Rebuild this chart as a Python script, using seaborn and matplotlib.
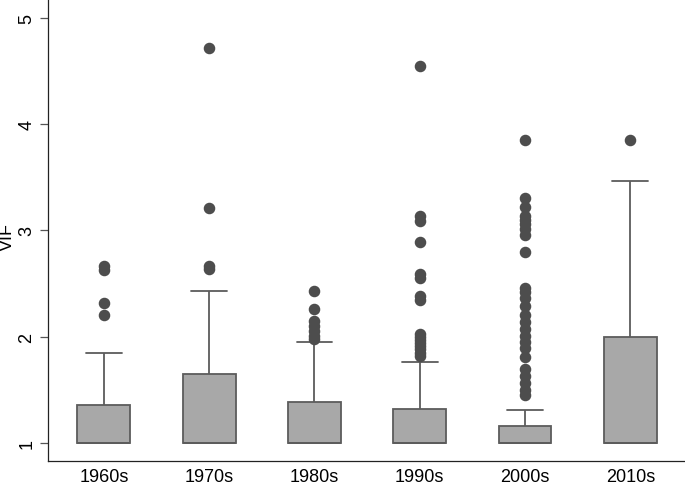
import matplotlib
matplotlib.use("Agg")
from matplotlib import pyplot as plt
import seaborn as sns
import pandas as pd
import numpy as np

# values: box top (Q3), upper whisker end, outliers
# (lower quartile and median all sit at 1)
decades = ["1960s", "1970s", "1980s", "1990s", "2000s", "2010s"]
q3 = [1.36, 1.65, 1.39, 1.32, 1.16, 2.00]
whisker_top = [1.85, 2.43, 1.95, 1.765, 1.31, 3.47]
outliers_60s = [2.67, 2.63, 2.32, 2.20]
outliers_70s = [4.72, 3.21, 2.67, 2.64]
outliers_80s = [2.43, 2.26, 2.15, 2.10, 2.05, 2.01, 1.98]
outliers_90s = [4.55, 3.14, 3.09, 2.89, 2.59, 2.55, 2.38, 2.35,
                2.03, 2.00, 1.97, 1.94, 1.91, 1.88, 1.85, 1.82]
outliers_00s = [3.85, 3.31, 3.22, 3.14, 3.10, 3.06, 3.01, 2.96, 2.80,
                2.46, 2.42, 2.36, 2.29, 2.20, 2.14, 2.07, 2.01, 1.95,
                1.89, 1.81, 1.70, 1.63, 1.56, 1.50, 1.45]
outliers_10s = [3.85]
outliers = [outliers_60s, outliers_70s, outliers_80s,
            outliers_90s, outliers_00s, outliers_10s]


def build(q, w, out):
    # enough 1s for median/Q1 at 1, a block at Q3, then whisker end + outliers
    top = [w] + out
    n_q3 = len(top) + 4
    n_ones = 2 * (n_q3 + len(top))
    return [1.0] * n_ones + [q] * n_q3 + top


rows = []
for d, q, w, out in zip(decades, q3, whisker_top, outliers):
    for v in build(q, w, out):
        rows.append((d, v))
df = pd.DataFrame(rows, columns=["decade", "VIF"])

sns.set_style("white")
plt.rcParams["font.family"] = ["Liberation Sans", "DejaVu Sans"]
plt.rcParams["text.color"] = "black"
plt.rcParams["axes.labelcolor"] = "black"
plt.rcParams["xtick.color"] = "black"
plt.rcParams["ytick.color"] = "black"

fig = plt.figure(figsize=(6.85, 4.85), dpi=100)
ax = fig.add_axes([0.070, 0.0474, 0.930, 0.9526])

edge = "#5c5c5c"
sns.boxplot(data=df, x="decade", y="VIF", order=decades, ax=ax,
            color="#a8a8a8", saturation=1, width=0.503, linecolor=edge,
            linewidth=1.3,
            flierprops=dict(marker="o", markerfacecolor="#4d4d4d",
                            markeredgecolor="#4d4d4d", markersize=7.3))

# widen the caps a bit, Stata style
for ln in ax.lines:
    x = np.asarray(ln.get_xdata(), dtype=float)
    y = np.asarray(ln.get_ydata(), dtype=float)
    if len(x) == 2 and y[0] == y[1] and 0 < abs(x[1] - x[0]) < 0.45:
        c = x.mean()
        ln.set_xdata([c - 0.17, c + 0.17])

ax.set_xlim(-0.532, 5.52)
ax.set_ylim(0.83, 5.179)
ax.set_yticks([1, 2, 3, 4, 5])
ax.set_xlabel("")
ax.set_ylabel("VIF", fontsize=13)
ax.yaxis.set_label_coords(-0.051, 0.487)

for s in ["top", "right"]:
    ax.spines[s].set_visible(False)
for s in ["left", "bottom"]:
    ax.spines[s].set_color("#222222")
    ax.spines[s].set_linewidth(0.9)

ax.tick_params(axis="y", left=True, length=6, width=0.9, color="#555555",
               labelsize=13, labelrotation=90, pad=3)
ax.tick_params(axis="x", bottom=False, length=0, labelsize=13, pad=5)
for t in ax.get_yticklabels():
    t.set_va("center")

plt.savefig("out.png", dpi=100)
